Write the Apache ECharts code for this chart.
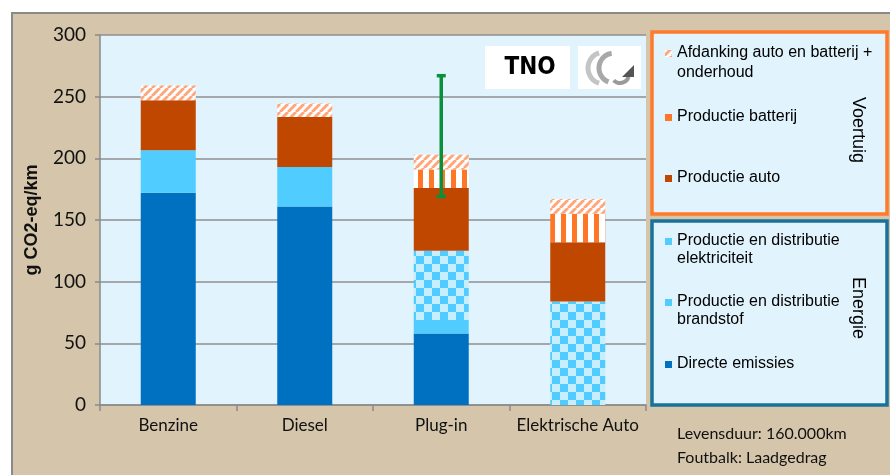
<!DOCTYPE html>
<html>
<head>
<meta charset="utf-8">
<script src="https://cdn.jsdelivr.net/npm/echarts@6/dist/echarts.min.js"></script>
<style>
  html, body { margin: 0; padding: 0; background: #fff; }
  #chart { width: 890px; height: 475px; }
</style>
</head>
<body>
<div id="chart"></div>
<script>
// data (g CO2-eq/km)
var categories = ['Benzine', 'Diesel', 'Plug-in', 'Elektrische Auto'];
var directe = [172, 161, 58, 0];
var brandstof = [34.5, 32, 11, 0];
var elektriciteit = [0, 0, 56, 84];
var productieAuto = [40.5, 40.5, 51, 48];
var productieBatterij = [0, 0, 15, 23];
var afdanking = [12, 11, 12, 12];
var foutbalk = [[2, 169, 267]]; // plug-in: laadgedrag
var yTicks = [0, 50, 100, 150, 200, 250, 300];

// patterns
function makeCanvas(w, h, draw) {
    var c = document.createElement('canvas');
    c.width = w; c.height = h;
    draw(c.getContext('2d'));
    return c;
}
var diagCanvas = makeCanvas(8, 8, function (ctx) {
    ctx.fillStyle = '#fff';
    ctx.fillRect(0, 0, 8, 8);
    ctx.strokeStyle = '#FFA77C';
    ctx.lineWidth = 3;
    [[-8, 8], [0, 8], [8, 8]].forEach(function (p) {
        ctx.beginPath();
        ctx.moveTo(p[0], p[1]);
        ctx.lineTo(p[0] + 8, p[1] - 8);
        ctx.stroke();
    });
});
var vertCanvas = makeCanvas(11, 4, function (ctx) {
    ctx.fillStyle = '#fff';
    ctx.fillRect(0, 0, 11, 4);
    ctx.fillStyle = '#FF7726';
    ctx.fillRect(0, 0, 5, 4);
});
var checkCanvas = makeCanvas(16, 16, function (ctx) {
    ctx.fillStyle = '#C6EEFF';
    ctx.fillRect(0, 0, 16, 16);
    ctx.fillStyle = '#50CCFF';
    ctx.fillRect(0, 0, 8, 8);
    ctx.fillRect(8, 8, 8, 8);
});
var diagPattern = { image: diagCanvas, repeat: 'repeat' };
var vertPattern = { image: vertCanvas, repeat: 'repeat' };
var checkPattern = { image: checkCanvas, repeat: 'repeat' };

var myChart = echarts.init(document.getElementById('chart'));

function bar(name, data, color) {
    return {
        name: name,
        type: 'bar',
        stack: 'totaal',
        barWidth: 55,
        data: data,
        itemStyle: { color: color },
        emphasis: { disabled: true }
    };
}

var txt = '16px "Liberation Sans", Arial, sans-serif';
var lightBlue = '#E1F3FD';

var option = {
    backgroundColor: '#D4C5AB',
    animation: false,
    grid: {
        left: 100, right: 244, top: 35, bottom: 70,
        show: true,
        backgroundColor: lightBlue,
        borderWidth: 0
    },
    xAxis: {
        type: 'category',
        data: categories,
        axisLine: { lineStyle: { color: '#8a8a8a', width: 1.5 } },
        axisTick: { show: true, interval: 0, length: 6, lineStyle: { color: '#8a8a8a', width: 1.5 } },
        axisLabel: { interval: 0, color: '#111', fontFamily: 'Lato', fontSize: 17, margin: 12 }
    },
    yAxis: {
        type: 'value',
        min: 0, max: 300, interval: 50,
        name: 'g CO2-eq/km',
        nameLocation: 'middle',
        nameGap: 59,
        nameTextStyle: { color: '#111', fontFamily: '"Liberation Sans", Arial', fontWeight: 'bold', fontSize: 18 },
        axisLine: { show: true, lineStyle: { color: '#8a8a8a', width: 1.5 } },
        axisTick: { show: true, length: 5, lineStyle: { color: '#8a8a8a', width: 1.5 } },
        axisLabel: {
            color: '#111', fontFamily: 'Lato', fontSize: 19, margin: 14,
            formatter: function (v) { return yTicks.indexOf(v) >= 0 ? String(v) : ''; }
        },
        splitLine: { lineStyle: { color: '#8f8f8f', width: 1.5 } }
    },
    series: [
        bar('Directe emissies', directe, '#0070C0'),
        bar('Productie en distributie brandstof', brandstof, '#50CCFF'),
        bar('Productie en distributie elektriciteit', elektriciteit, checkPattern),
        bar('Productie auto', productieAuto, '#C04700'),
        bar('Productie batterij', productieBatterij, vertPattern),
        bar('Afdanking auto en batterij + onderhoud', afdanking, diagPattern),
        {
            name: 'Foutbalk',
            type: 'custom',
            data: foutbalk,
            encode: { x: 0, y: [1, 2] },
            z: 10,
            renderItem: function (params, api) {
                var lo = api.coord([api.value(0), api.value(1)]);
                var hi = api.coord([api.value(0), api.value(2)]);
                var style = { stroke: '#0A8F3A', lineWidth: 3.5 };
                return {
                    type: 'group',
                    children: [
                        { type: 'line', shape: { x1: lo[0], y1: lo[1], x2: hi[0], y2: hi[1] }, style: style },
                        { type: 'line', shape: { x1: lo[0] - 4.5, y1: lo[1], x2: lo[0] + 4.5, y2: lo[1] }, style: style },
                        { type: 'line', shape: { x1: hi[0] - 4.5, y1: hi[1], x2: hi[0] + 4.5, y2: hi[1] }, style: style }
                    ]
                };
            }
        }
    ],
    graphic: [
        // white margin above/left of the tan frame
        { type: 'rect', shape: { x: 0, y: 0, width: 890, height: 12 }, style: { fill: '#fff' }, z: 20 },
        { type: 'rect', shape: { x: 0, y: 0, width: 11, height: 475 }, style: { fill: '#fff' }, z: 20 },
        { type: 'polyline', shape: { points: [[12, 475], [12, 13], [890, 13]] }, style: { stroke: '#8a8a8a', lineWidth: 2, fill: null }, z: 20 },

        // logos
        { type: 'rect', shape: { x: 485, y: 46, width: 85, height: 43 }, style: { fill: '#fff' }, z: 20 },
        { type: 'text', x: 530, y: 68, style: { text: 'TNO', font: 'bold 24px "DejaVu Sans Condensed", "DejaVu Sans"', fill: '#000', align: 'center', verticalAlign: 'middle' }, z: 21 },
        { type: 'rect', shape: { x: 578, y: 46, width: 63, height: 43 }, style: { fill: '#fff' }, z: 20 },
        { type: 'arc', shape: { cx: 604, cy: 68, r: 16, startAngle: Math.PI * 0.6, endAngle: Math.PI * 1.4 }, style: { fill: null, stroke: '#c4c4c4', lineWidth: 5 }, z: 21 },
        { type: 'arc', shape: { cx: 614, cy: 68, r: 15, startAngle: Math.PI * 0.62, endAngle: Math.PI * 1.45 }, style: { fill: null, stroke: '#a8a8a8', lineWidth: 5 }, z: 21 },
        { type: 'arc', shape: { cx: 620, cy: 74, r: 9, startAngle: Math.PI * 0.1, endAngle: Math.PI * 0.75 }, style: { fill: null, stroke: '#9a9a9a', lineWidth: 4 }, z: 21 },
        { type: 'polygon', shape: { points: [[622, 77], [634, 77], [634, 65]] }, style: { fill: '#555' }, z: 22 },

        // legend: Voertuig
        { type: 'rect', shape: { x: 652, y: 32, width: 235, height: 182 }, style: { fill: lightBlue, stroke: '#FF7A2A', lineWidth: 3.5 }, z: 20 },
        { type: 'rect', shape: { x: 665, y: 50, width: 7, height: 7 }, style: { fill: diagPattern }, z: 21 },
        { type: 'text', x: 677, y: 43, style: { text: 'Afdanking auto en batterij +\nonderhoud', font: txt, lineHeight: 20, fill: '#000', verticalAlign: 'top' }, z: 21 },
        { type: 'rect', shape: { x: 665, y: 114, width: 7, height: 7 }, style: { fill: '#FF7726' }, z: 21 },
        { type: 'text', x: 677, y: 117, style: { text: 'Productie batterij', font: txt, fill: '#000', verticalAlign: 'middle' }, z: 21 },
        { type: 'rect', shape: { x: 665, y: 175, width: 7, height: 7 }, style: { fill: '#C04700' }, z: 21 },
        { type: 'text', x: 677, y: 178, style: { text: 'Productie auto', font: txt, fill: '#000', verticalAlign: 'middle' }, z: 21 },
        { type: 'text', x: 858, y: 130, rotation: -Math.PI / 2, style: { text: 'Voertuig', font: '18px "Liberation Sans", Arial', fill: '#000', align: 'center', verticalAlign: 'middle' }, z: 21 },

        // legend: Energie
        { type: 'rect', shape: { x: 652, y: 221, width: 235, height: 184 }, style: { fill: lightBlue, stroke: '#17739A', lineWidth: 3.5 }, z: 20 },
        { type: 'rect', shape: { x: 665, y: 238, width: 7, height: 7 }, style: { fill: '#50CCFF' }, z: 21 },
        { type: 'text', x: 677, y: 232, style: { text: 'Productie en distributie\nelektriciteit', font: txt, lineHeight: 18, fill: '#000', verticalAlign: 'top' }, z: 21 },
        { type: 'rect', shape: { x: 665, y: 299, width: 7, height: 7 }, style: { fill: '#50CCFF' }, z: 21 },
        { type: 'text', x: 677, y: 293, style: { text: 'Productie en distributie\nbrandstof', font: txt, lineHeight: 18, fill: '#000', verticalAlign: 'top' }, z: 21 },
        { type: 'rect', shape: { x: 665, y: 361, width: 7, height: 7 }, style: { fill: '#0070C0' }, z: 21 },
        { type: 'text', x: 677, y: 364, style: { text: 'Directe emissies', font: txt, fill: '#000', verticalAlign: 'middle' }, z: 21 },
        { type: 'text', x: 858, y: 308, rotation: -Math.PI / 2, style: { text: 'Energie', font: '18px "Liberation Sans", Arial', fill: '#000', align: 'center', verticalAlign: 'middle' }, z: 21 },

        // notes
        { type: 'text', x: 677, y: 434, style: { text: 'Levensduur: 160.000km', font: '16px Lato', fill: '#111', verticalAlign: 'middle' }, z: 21 },
        { type: 'text', x: 677, y: 458, style: { text: 'Foutbalk: Laadgedrag', font: '16px Lato', fill: '#111', verticalAlign: 'middle' }, z: 21 }
    ]
};

myChart.setOption(option);
</script>
</body>
</html>
